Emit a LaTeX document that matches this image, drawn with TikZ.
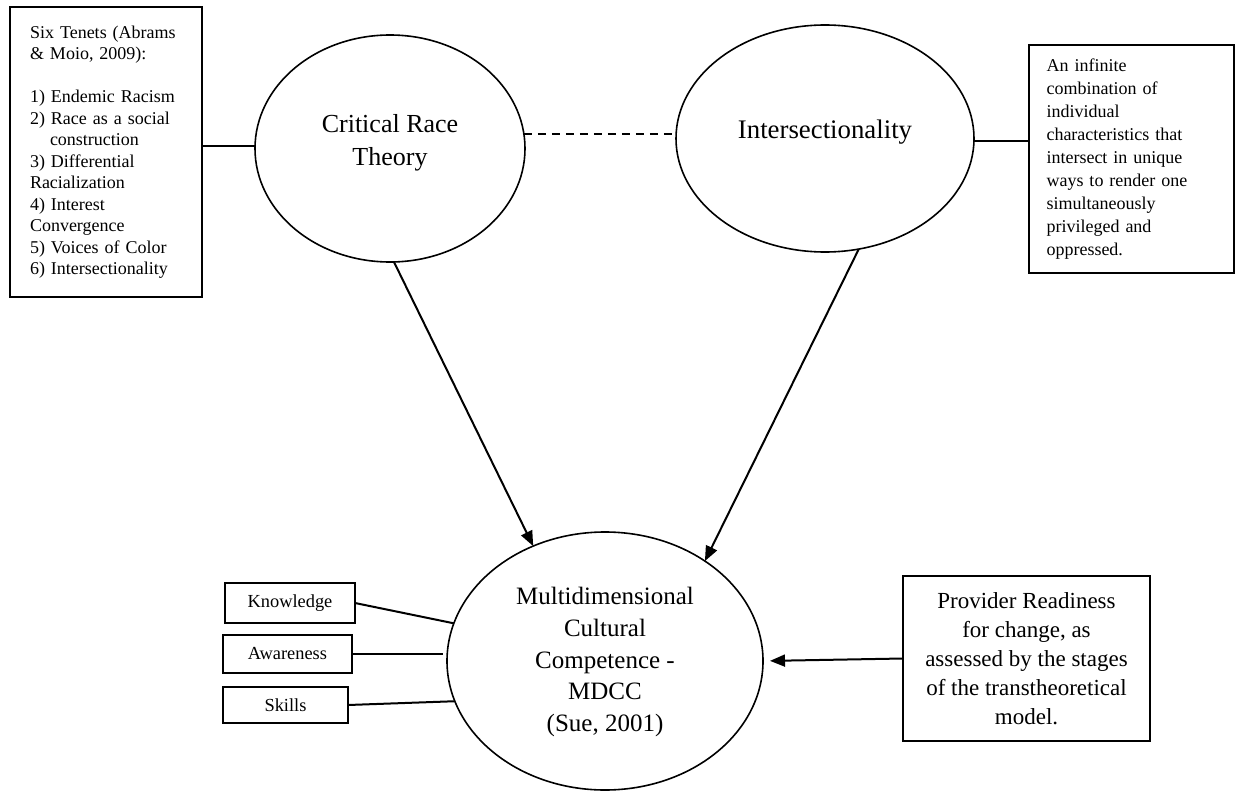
\documentclass[tikz,border=0pt]{standalone}
\usepackage{fontspec}
\setmainfont{Liberation Serif}
\usetikzlibrary{shapes.geometric,arrows.meta}
\begin{document}
\begin{tikzpicture}[x=0.5pt,y=-0.5pt,
  box/.style={draw, line width=1pt, rectangle, inner sep=0pt, outer sep=0pt},
  oval/.style={draw, line width=0.8pt, ellipse, inner sep=0pt, outer sep=0pt},
  lbl/.style={align=center, inner sep=0pt},
  link/.style={line width=1pt},
  arr/.style={line width=1pt, -{Triangle[length=7.5pt,width=6pt]}},
]
\useasboundingbox (0,0) rectangle (1236,792);

% left tenets box
\node[box, minimum width=96pt, minimum height=145pt, text width=76pt, align=left,
      font=\fontsize{9}{10.75}\selectfont] (tenets) at (106,152)
  {Six Tenets (Abrams\\
   \& Moio, 2009):\\
   \mbox{}\\
   1) Endemic Racism\\
   2) Race as a social\\
   \hspace*{10pt}construction\\
   3) Differential\\
   Racialization\\
   4) Interest\\
   Convergence\\
   5) Voices of Color\\
   6) Intersectionality};

% right definition box
\node[box, minimum width=102.5pt, minimum height=114pt, text width=85pt, align=left,
      font=\fontsize{9}{11.55}\selectfont] (defbox) at (1131.5,159)
  {An infinite\\
   combination of\\
   individual\\
   characteristics that\\
   intersect in unique\\
   ways to render one\\
   simultaneously\\
   privileged and\\
   oppressed.};

% ellipses
\node[oval, minimum width=135pt, minimum height=113.5pt] (crt) at (390,148.5) {};
\node[lbl, font=\fontsize{13}{16.5}\selectfont] (crtt) at (390,143) {Critical Race\\Theory};

\node[oval, minimum width=149pt, minimum height=113.5pt] (isec) at (825,138.5) {};
\node[lbl, font=\fontsize{13.4}{16.5}\selectfont] (isect) at (825,132) {Intersectionality};

\node[oval, minimum width=158pt, minimum height=129pt] (mdcc) at (605,661) {};
\node[lbl, font=\fontsize{12.5}{15.8}\selectfont] (mdcct) at (605,662)
  {Multidimensional\\Cultural\\Competence -\\MDCC\\(Sue, 2001)};

% small boxes
\node[box, minimum width=65pt, minimum height=20pt, font=\fontsize{9.2}{11}\selectfont] (know) at (290,603) {Knowledge};
\node[box, minimum width=64.5pt, minimum height=19pt, font=\fontsize{9.2}{11}\selectfont] (aware) at (287.5,654) {Awareness};
\node[box, minimum width=62.5pt, minimum height=18pt, font=\fontsize{9.2}{11}\selectfont] (skills) at (285.5,705) {Skills};

% provider box
\node[box, minimum width=123.5pt, minimum height=82.5pt, align=center,
      font=\fontsize{11.5}{14.5}\selectfont] (prov) at (1026.5,658.5)
  {Provider Readiness\\
   for change, as\\
   assessed by the stages\\
   of the transtheoretical\\
   model.};

% connectors
\draw[link] (crt.179 -| tenets.east) -- (crt.179);
\draw[link, dash pattern=on 4pt off 3pt] (crt.6.5) -- (crt.6.5 -| isec.west);
\draw[link] (isec.-1.7) -- (isec.-1.7 -| defbox.west);

\draw[arr] (crt.-88.5) -- (mdcc.122.4);
\draw[arr] (isec.-73.9) -- (mdcc.45);
\draw[arr, shorten >=3.5pt] (prov.west) -- (mdcc.-0.7);

\draw[link] (know.east) -- (mdcc.166);
\draw[link, shorten >=2pt] (aware.east) -- (aware.east -| mdcc.west);
\draw[link] (skills.east) -- (mdcc.195.4);
\end{tikzpicture}
\end{document}
